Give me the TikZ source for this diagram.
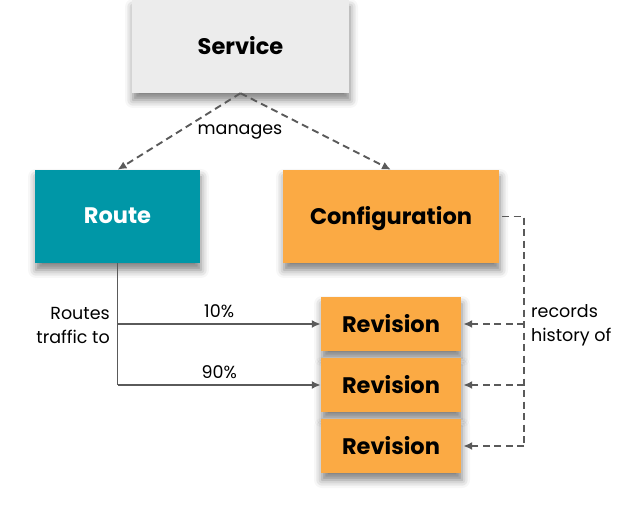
\documentclass[tikz,border=0pt]{standalone}
\usepackage{fontspec}
\setmainfont{Poppins}
\usetikzlibrary{arrows.meta,shadows.blur}

\definecolor{svcgray}{HTML}{ECECEC}
\definecolor{routeteal}{HTML}{0097A7}
\definecolor{knorange}{HTML}{FBAA44}
\definecolor{linkgray}{HTML}{5A5A5A}

\tikzset{
  boxshadow/.style={blur shadow={shadow xshift=1pt, shadow yshift=-7pt,
      shadow blur radius=8pt, shadow opacity=50}},
  box/.style={boxshadow, draw=none, inner sep=0pt, text depth=2pt,
      font=\fontsize{22.5}{26}\selectfont\bfseries},
  service/.style={box, fill=svcgray, minimum width=217pt, minimum height=93pt},
  routebox/.style={box, fill=routeteal, text=white, minimum width=165pt, minimum height=93pt},
  configbox/.style={box, fill=knorange, minimum width=216pt, minimum height=93pt},
  revbox/.style={box, fill=knorange, minimum width=140pt, minimum height=54pt},
  link/.style={draw=linkgray, line width=1.9pt, -{Latex[length=9pt,width=8pt]}},
  dashlink/.style={link, dash pattern=on 7pt off 4.5pt},
  lbl/.style={font=\fontsize{17.5}{24}\selectfont, text=black, inner sep=0pt},
}

\begin{document}
\begin{tikzpicture}[x=1pt, y=-1pt]
  \useasboundingbox (0,0) rectangle (625,510);

  % resources (each revision covers the shadow of the one above it)
  \node[service]   (service) at (240.5,46.5) {Service};
  \node[routebox]  (route)   at (117.5,216.5) {Route};
  \node[configbox] (config)  at (391,216.5) {Configuration};
  \node[revbox]    (rev1)    at (391,324) {Revision};
  \node[revbox]    (rev2)    at (391,385) {Revision};
  \node[revbox]    (rev3)    at (391,446) {Revision};

  % service manages route and configuration
  \draw[dashlink] (service.south) -- (route.north);
  \draw[dashlink] (service.south) -- (config.north);
  \node[lbl] (manages) at (240,132) {manages};

  % traffic split from route to revisions
  \draw[link, -] (route.south) -- (route.south |- rev2.west);
  \draw[link] (route.south |- rev1.west) -- (rev1.west)
      node[lbl, midway, above=5pt] (p10) {10\%};
  \draw[link] (route.south |- rev2.west) -- (rev2.west)
      node[lbl, midway, above=5pt] (p90) {90\%};
  \node[lbl, align=right, anchor=east] (routes) at (110,325)
      {Routes\\traffic to};

  % configuration history of revisions
  \coordinate (bus) at (524,216.5);
  \draw[dashlink, -] ([xshift=3pt]config.east) -- (bus) -- (bus |- rev3.east);
  \draw[dashlink] (bus |- rev1.east) -- ([xshift=2pt]rev1.east);
  \draw[dashlink] (bus |- rev2.east) -- ([xshift=2pt]rev2.east);
  \draw[dashlink] (bus |- rev3.east) -- ([xshift=2pt]rev3.east);
  \node[lbl, align=left, anchor=west] (records) at (531,325)
      {records\\history of};
\end{tikzpicture}
\end{document}
